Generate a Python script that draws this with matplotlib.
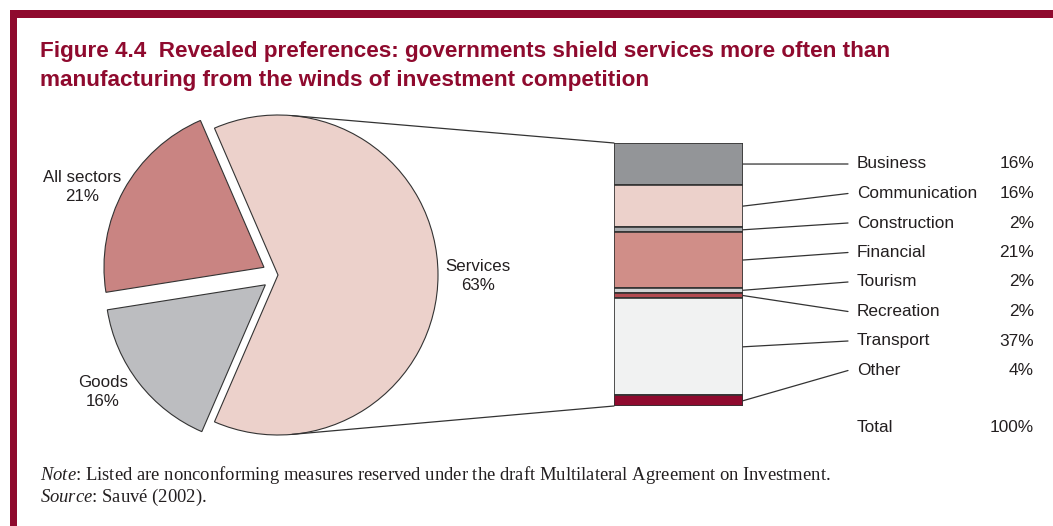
import numpy as np
import matplotlib
matplotlib.use("Agg")
import matplotlib.pyplot as plt
from matplotlib.patches import Rectangle, ConnectionPatch

# --- data ---
pie_labels = ['Services', 'All sectors', 'Goods']
pie_values = [63, 21, 16]
pie_explode = [0, 0.1, 0.1]
pie_colors = ['#ECD1CB', '#C98482', '#BCBDC0']

sectors = ['Business', 'Communication', 'Construction', 'Financial',
           'Tourism', 'Recreation', 'Transport', 'Other']
shares = [16, 16, 2, 21, 2, 2, 37, 4]
sector_colors = ['#939598', '#ECD1CB', '#A7A9AC', '#D08E88',
                 '#D1D3D4', '#B24A50', '#F1F2F2', '#8F0A2E']
total_label, total_value = 'Total', 100

title = ("Figure 4.4  Revealed preferences: governments shield services more often than\n"
         "manufacturing from the winds of investment competition")
note = r"$\mathit{Note}$: Listed are nonconforming measures reserved under the draft Multilateral Agreement on Investment."
source = r"$\mathit{Source}$: Sauvé (2002)."

MAROON = '#8F0A2E'
EDGE = '#333333'
TXT = '#231F20'

plt.rcParams['font.family'] = ['Liberation Sans', 'DejaVu Sans']
plt.rcParams['mathtext.fontset'] = 'custom'
plt.rcParams['mathtext.it'] = 'Liberation Serif:italic'
plt.rcParams['mathtext.rm'] = 'Liberation Serif'

W, H = 1053, 526
fig = plt.figure(figsize=(W / 100, H / 100), dpi=100)


# helpers: pixel (top-left origin) -> figure fraction
def fx(x):
    return x / W


def fy(y):
    return 1 - y / H


def box(l, t, r, b):
    return [fx(l), fy(b), (r - l) / W, (b - t) / H]


# --- frame ---
fig.patches.append(Rectangle((fx(10), fy(18)), 1 - fx(10), 8 / H,
                             transform=fig.transFigure, color=MAROON, lw=0))
fig.patches.append(Rectangle((fx(10), 0), 7 / W, fy(10),
                             transform=fig.transFigure, color=MAROON, lw=0))

fig.text(fx(40), fy(66), title, color=MAROON, fontsize=16.2, fontweight='bold',
         ha='left', va='center', linespacing=1.55)

# --- pie ---
cx, cy, r = 278, 275, 160
ax_pie = fig.add_axes(box(cx - 1.3 * r, cy - 1.3 * r, cx + 1.3 * r, cy + 1.3 * r))
ax_pie.pie(pie_values, colors=pie_colors, explode=pie_explode, startangle=-113.4,
           counterclock=True, wedgeprops=dict(edgecolor=EDGE, linewidth=0.8))
ax_pie.set_xlim(-1.3, 1.3)
ax_pie.set_ylim(-1.3, 1.3)
ax_pie.set_aspect('auto')
ax_pie.axis('off')

pie_text_pos = {'Services': (478, 276), 'All sectors': (82, 187), 'Goods': (103, 392)}
for lab, val in zip(pie_labels, pie_values):
    px, py = pie_text_pos[lab]
    fig.text(fx(px), fy(py), f"{lab}\n{val}%", ha='center', va='center',
             fontsize=12.2, color=TXT, linespacing=1.4)

# --- stacked bar ---
ax_bar = fig.add_axes(box(614, 143, 743, 406))
bottoms = np.concatenate([[0], np.cumsum(shares)[:-1]])
ax_bar.bar(0, shares, bottom=bottoms, width=1, color=sector_colors,
           edgecolor=EDGE, linewidth=1.2)
ax_bar.set_xlim(-0.5, 0.5)
ax_bar.set_ylim(sum(shares), 0)
ax_bar.axis('off')

# zoom connector lines, tangent to the pie
for ang, yb in [(85, 0), (-85, sum(shares))]:
    a = np.radians(ang)
    con = ConnectionPatch(xyA=(np.cos(a), np.sin(a)), coordsA='data', axesA=ax_pie,
                          xyB=(-0.5, yb), coordsB='data', axesB=ax_bar,
                          color=EDGE, lw=0.9)
    fig.add_artist(con)

# labels and leader lines
row0, step = 164, 29.5
for i, (name, val) in enumerate(zip(sectors, shares)):
    ly = row0 + i * step
    mid = bottoms[i] + val / 2
    con = ConnectionPatch(xyA=(0.5, mid), coordsA='data', axesA=ax_bar,
                          xyB=(fx(848), fy(ly)), coordsB='figure fraction',
                          color=EDGE, lw=0.9)
    fig.add_artist(con)
    fig.text(fx(857), fy(ly), name, ha='left', va='center', fontsize=12.4, color=TXT)
    fig.text(fx(1034), fy(ly), f"{val}%", ha='right', va='center', fontsize=12.4, color=TXT)

fig.text(fx(857), fy(428), total_label, ha='left', va='center', fontsize=12.4, color=TXT)
fig.text(fx(1034), fy(428), f"{total_value}%", ha='right', va='center', fontsize=12.4, color=TXT)

# --- notes ---
fig.text(fx(40), fy(475), note, ha='left', va='center', fontsize=13.4,
         family='Liberation Serif', color=TXT)
fig.text(fx(40), fy(497), source, ha='left', va='center', fontsize=13.4,
         family='Liberation Serif', color=TXT)

fig.savefig('out.png', dpi=100, facecolor='white')
